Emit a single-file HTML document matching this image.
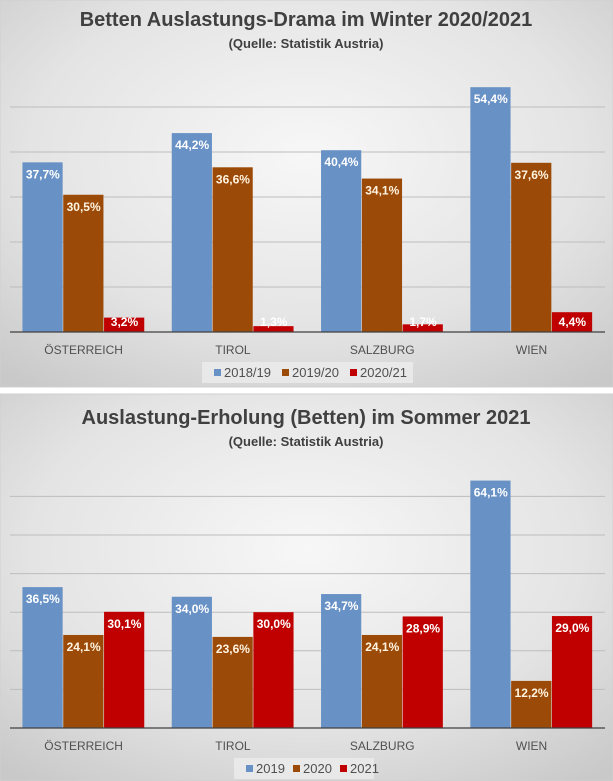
<!DOCTYPE html>
<html><head><meta charset="utf-8"><style>
html,body{margin:0;padding:0;background:#fff;width:613px;height:781px;overflow:hidden}
svg{display:block;font-family:"Liberation Sans",sans-serif}
</style></head><body>
<svg id="root" width="613" height="781" viewBox="0 0 613 781" xmlns="http://www.w3.org/2000/svg">
<defs>
<radialGradient id="bg" cx="50%" cy="40%" r="75%">
<stop offset="0" stop-color="#f7f7f7"/><stop offset="0.6" stop-color="#e4e4e4"/><stop offset="1" stop-color="#c9c9c9"/>
</radialGradient>
</defs>
</svg>
<script>
const categories = ["ÖSTERREICH","TIROL","SALZBURG","WIEN"];
const winterSeriesNames = ["2018/19","2019/20","2020/21"];
const winter1819 = [37.7,44.2,40.4,54.4];
const winter1920 = [30.5,36.6,34.1,37.6];
const winter2021 = [3.2,1.3,1.7,4.4];
const summerSeriesNames = ["2019","2020","2021"];
const summer2019 = [36.5,34.0,34.7,64.1];
const summer2020 = [24.1,23.6,24.1,12.2];
const summer2021 = [30.1,30.0,28.9,29.0];
const gridTicks = [10,20,30,40,50,60];

const NS="http://www.w3.org/2000/svg";
const root=document.getElementById('root');
const colors=["#6891c6","#9c4a08","#c00000"];
function mk(tag,attrs,parent){const e=document.createElementNS(NS,tag);for(const k in attrs)e.setAttribute(k,attrs[k]);(parent||root).appendChild(e);return e;}

function chart(cfg){
  const g=mk('g',{});
  
  
  const bg=mk('rect',{x:0,y:cfg.top,width:613,height:cfg.h,fill:'url(#bg)',stroke:'#d0d0d0'},g);
  
  
  const t=mk('text',{x:306,y:cfg.top+cfg.titleY,'text-anchor':'middle','font-size':20,'font-weight':'bold',fill:'#404040'},g);
  t.textContent=cfg.title;
  
  
  const s=mk('text',{x:306,y:cfg.top+cfg.titleY+22,'text-anchor':'middle','font-size':13,'font-weight':'bold',fill:'#404040'},g);
  s.textContent="(Quelle: Statistik Austria)";
  
  
  const y=v=>cfg.base-v*cfg.ppu;
  const x0=10,gw=149.3;
  gridTicks.forEach(v=>{
    if(y(v)<cfg.top+70)return;
    const l=mk('line',{x1:x0,x2:605,y1:y(v),y2:y(v),stroke:'#bdbdbd','stroke-width':1},g);
    
    
  });
  const bw=40.8;
  cfg.series.forEach((ser,si)=>{
    ser.forEach((v,ci)=>{
      const cx=x0+gw*(ci+0.5)-1;
      const bx=cx-bw*1.5+si*bw;
      const r=mk('rect',{x:bx,y:y(v),width:bw-0.6,height:cfg.base-y(v),fill:colors[si]},g);
      
      
      const ly=Math.min(y(v)+16,cfg.base-6);
      const lt=mk('text',{x:bx+bw/2,y:ly,'text-anchor':'middle','font-size':12,'font-weight':'bold',fill:si==1?'#fff4e0':'#ffffff'},g);
      lt.textContent=v.toFixed(1).replace('.',',')+'%';
      
      
    });
  });
  const ax=mk('line',{x1:x0,x2:605,y1:cfg.base,y2:cfg.base,stroke:'#404040','stroke-width':1.2},g);
  
  
  categories.forEach((c,ci)=>{
    const ct=mk('text',{x:x0+gw*(ci+0.5)-1,y:cfg.base+22,'text-anchor':'middle','font-size':12,fill:'#505050'},g);
    ct.textContent=c;
    
    
  });
  const lb=mk('rect',{x:cfg.leg[0],y:cfg.base+30,width:cfg.leg[1],height:21,fill:'#ececec',opacity:0.8},g);
  
  
  let lx=cfg.leg[0]+12;
  cfg.names.forEach((n,i)=>{
    const sq=mk('rect',{x:lx,y:cfg.base+37,width:7,height:7,fill:colors[i]},g);
    
    
    const tx=mk('text',{x:lx+10,y:cfg.base+45,'font-size':13,fill:'#505050'},g);
    tx.textContent=n;
    
    
    lx+=cfg.legStep;
  });
}
chart({name:'winter-chart',top:0,h:387,titleY:26,title:'Betten Auslastungs-Drama im Winter 2020/2021',base:332,ppu:4.5,
  series:[winter1819,winter1920,winter2021],names:winterSeriesNames,leg:[202,211],legStep:68});
chart({name:'summer-chart',top:394,h:387,titleY:30,title:'Auslastung-Erholung (Betten) im Sommer 2021',base:728,ppu:3.86,
  series:[summer2019,summer2020,summer2021],names:summerSeriesNames,leg:[234,140],legStep:47});
</script>
</body></html>
